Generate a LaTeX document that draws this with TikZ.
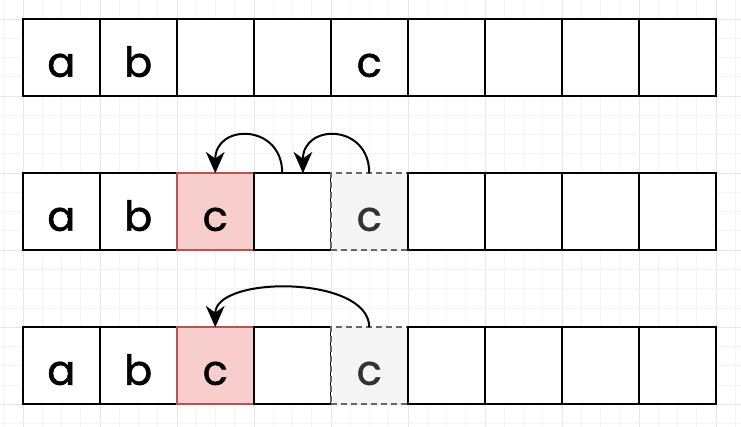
\documentclass[tikz,border=0pt]{standalone}
\usepackage{fontspec}
\newfontfamily\cellfont[FakeBold=1.2]{Poppins}
\usetikzlibrary{arrows.meta,calc}
\definecolor{redfill}{HTML}{F8CECC}
\definecolor{redline}{HTML}{B85450}
\definecolor{grayfill}{HTML}{F5F5F5}
\definecolor{grayline}{HTML}{666666}
\definecolor{graytext}{HTML}{333333}
\definecolor{gridminor}{HTML}{F4F4F4}
\definecolor{gridmajor}{HTML}{E6E6E6}
\begin{document}
\begin{tikzpicture}[x=0.75pt,y=-0.75pt,
  cell/.style={draw=black, line width=1.5pt, fill=white, minimum width=57.75pt, minimum height=57.75pt, inner sep=0pt, outer sep=0pt, anchor=north west},
  hot/.style={cell, draw=redline, fill=redfill},
  ghost/.style={cell, draw=grayline, fill=grayfill, dash pattern=on 4.5pt off 3pt},
  letter/.style={anchor=base, font=\cellfont\fontsize{31}{36}\selectfont, inner sep=0pt},
  move/.style={line width=1.5pt, -{Stealth[length=16pt,width=14pt,inset=5pt]}}]
\useasboundingbox (0,0) rectangle (741,427);
\fill[white] (0,0) rectangle (741,427);
% grid
\foreach \k in {0,...,38} {
  \pgfmathsetmacro\gx{3.75+19.25*\k}
  \pgfmathtruncatemacro\m{mod(\k,4)}
  \ifnum\m=1
    \draw[gridmajor, line width=0.75pt] (\gx,0) -- (\gx,427);
  \else
    \draw[gridminor, line width=0.75pt] (\gx,0) -- (\gx,427);
  \fi
}
\foreach \k in {0,...,22} {
  \pgfmathsetmacro\gy{19.25*\k}
  \pgfmathtruncatemacro\m{mod(\k,4)}
  \ifnum\m=1
    \draw[gridmajor, line width=0.75pt] (0,\gy) -- (741,\gy);
  \else
    \draw[gridminor, line width=0.75pt] (0,\gy) -- (741,\gy);
  \fi
}
% row 1
\foreach \i in {1,...,9} {
  \node[cell] (r1c\i) at ({22.75+77*(\i-1)},19.25) {};
}
% row 2
\foreach \i in {1,...,9} {
  \ifnum\i=3
    \node[hot] (r2c\i) at ({22.75+77*(\i-1)},173.25) {};
  \else\ifnum\i=5
    \node[ghost] (r2c\i) at ({22.75+77*(\i-1)},173.25) {};
  \else
    \node[cell] (r2c\i) at ({22.75+77*(\i-1)},173.25) {};
  \fi\fi
}
% row 3
\foreach \i in {1,...,9} {
  \ifnum\i=3
    \node[hot] (r3c\i) at ({22.75+77*(\i-1)},327.25) {};
  \else\ifnum\i=5
    \node[ghost] (r3c\i) at ({22.75+77*(\i-1)},327.25) {};
  \else
    \node[cell] (r3c\i) at ({22.75+77*(\i-1)},327.25) {};
  \fi\fi
}
% letters
\node[letter] (t1a) at (61.25,76.75) {a};
\node[letter] (t1b) at (138.25,76.75) {b};
\node[letter] (t1c) at (369.25,76.75) {c};
\node[letter] (t2a) at (61.25,230.75) {a};
\node[letter] (t2b) at (138.25,230.75) {b};
\node[letter] (t2c) at (215.25,230.75) {c};
\node[letter, text=graytext] (t2g) at (369.25,230.75) {c};
\node[letter] (t3a) at (61.25,384.75) {a};
\node[letter] (t3b) at (138.25,384.75) {b};
\node[letter] (t3c) at (215.25,384.75) {c};
\node[letter, text=graytext] (t3g) at (369.25,384.75) {c};
% arrows
\draw[move] ([xshift=-7.5pt]r2c4.north) .. controls +(0,-50) and +(0,-50) .. (r2c3.north);
\draw[move] (r2c5.north) .. controls +(0,-50) and +(0,-50) .. ([xshift=8pt]r2c4.north);
\draw[move] (r3c5.north) .. controls +(0,-52) and +(0,-52) .. (r3c3.north);
\end{tikzpicture}
\end{document}
